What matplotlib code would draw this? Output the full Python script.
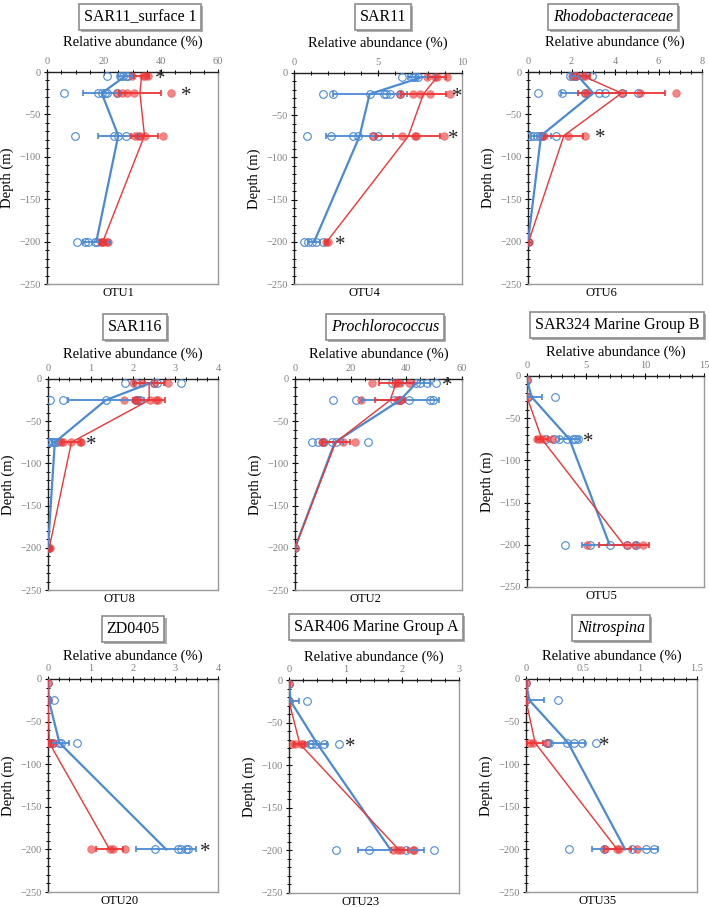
import matplotlib
matplotlib.use('Agg')
import matplotlib.pyplot as plt
from matplotlib.ticker import MultipleLocator, FuncFormatter
import matplotlib.patheffects as pe

plt.rcParams['font.family'] = ['Liberation Serif', 'DejaVu Serif']

W, H = 709, 907
BLUE = '#4a8ad4'
RED = '#ee3535'

depths = [-5, -25, -75, -200]

# ---------------- OTU1 (SAR11_surface 1) ----------------
otu1_blue_reps = [[20.9, 25.5, 26.5, 27.7, 28.5], [6.0, 18.0, 19.2, 20.3, 20.9, 24.4],
                  [9.8, 23.6, 25.0, 27.7], [10.5, 13.5, 14.5, 16.8, 17.5]]
otu1_blue_mean = [27.4, 19.2, 25.0, 17.3]
otu1_blue_sd = [2.6, 6.5, 7.2, 4.8]
otu1_red_reps = [[29.7, 33.8, 34.5, 35.5], [24.4, 26.2, 28.0, 30.4, 43.4],
                 [30.9, 32.0, 32.7, 34.4, 40.8], [18.8, 19.2, 19.5, 20.9, 21.5]]
otu1_red_mean = [33.2, 32.6, 34.2, 19.6]
otu1_red_sd = [2.5, 7.5, 4.8, 1.1]
otu1_stars = [(-5, 39.6), (-25, 49.0)]

# ---------------- OTU4 (SAR11) ----------------
otu4_blue_reps = [[6.4, 7.1, 7.2, 7.4], [1.75, 2.35, 4.5, 5.35, 5.5, 5.7, 6.3],
                  [0.8, 2.2, 3.5, 3.8, 4.7, 5.0], [0.6, 0.85, 1.1, 1.3, 1.7]]
otu4_blue_mean = [7.6, 4.5, 3.9, 1.2]
otu4_blue_sd = [0.8, 2.2, 2.0, 0.35]
otu4_red_reps = [[7.9, 8.4, 8.5, 9.1], [6.3, 7.1, 7.5, 8.1, 9.3],
                 [4.7, 6.4, 7.2, 7.25, 8.9], [1.9, 2.0]]
otu4_red_mean = [8.5, 7.7, 6.8, 1.95]
otu4_red_sd = [0.55, 1.35, 1.9, 0.1]
otu4_stars = [(-25, 9.7), (-75, 9.5), (-200, 2.75)]

# ---------------- OTU6 (Rhodobacteraceae) ----------------
otu6_blue_reps = [[1.95, 2.1, 2.2, 2.95], [0.45, 1.55, 2.6, 3.25, 3.55, 4.3, 5.05],
                  [0.08, 0.25, 0.4, 0.55, 0.64, 1.3], [0.0, 0.01]]
otu6_blue_mean = [2.3, 3.0, 0.6, 0.0]
otu6_blue_sd = [0.35, 1.5, 0.45, 0.01]
otu6_red_reps = [[2.0, 2.2, 2.55, 2.6], [2.6, 2.7, 4.3, 5.15, 6.8],
                 [0.65, 0.75, 1.85, 2.6], [0.03]]
otu6_red_mean = [2.55, 4.3, 1.65, 0.03]
otu6_red_sd = [0.3, 2.0, 0.9, 0.01]
otu6_stars = [(-75, 3.3)]

# ---------------- OTU8 (SAR116) ----------------
otu8_blue_reps = [[1.8, 2.08, 2.49, 2.57, 3.14], [0.04, 0.35, 1.36, 2.08, 2.12, 2.16],
                  [0.0, 0.08, 0.12, 0.16, 0.21], [0.0, 0.01]]
otu8_blue_mean = [2.4, 1.36, 0.16, 0.0]
otu8_blue_sd = [0.35, 0.9, 0.06, 0.01]
otu8_red_reps = [[2.0, 2.22, 2.49, 2.82], [1.78, 2.04, 2.1, 2.39, 2.53, 2.59],
                 [0.31, 0.35, 0.55, 0.76, 0.78], [0.02, 0.04]]
otu8_red_mean = [2.38, 2.38, 0.55, 0.03]
otu8_red_sd = [0.35, 0.38, 0.22, 0.01]
otu8_stars = [(-75, 1.02)]

# ---------------- OTU2 (Prochlorococcus) ----------------
otu2_blue_reps = [[35.0, 43.5, 45.0, 47.4, 50.7], [13.8, 22.0, 35.4, 37.8, 40.8, 48.6, 49.5],
                  [6.0, 8.4, 10.0, 13.4, 14.6, 26.3], [0.0]]
otu2_blue_mean = [43.5, 37.8, 14.3, 0.0]
otu2_blue_sd = [5.0, 13.8, 3.0, 0.1]
otu2_red_reps = [[27.6, 36.0, 36.6, 37.6, 40.8], [23.6, 36.8, 37.5, 38.0],
                 [9.6, 10.4, 17.2, 21.4], [0.0]]
otu2_red_mean = [36.3, 34.2, 14.6, 0.0]
otu2_red_sd = [6.3, 5.4, 5.0, 0.1]
otu2_stars = [(-5, 54.6)]

# ---------------- OTU5 (SAR324 Marine Group B) ----------------
otu5_blue_reps = [[0.0], [0.05, 0.1, 2.34], [1.6, 2.25, 2.75, 3.4, 3.9, 4.1, 4.35],
                  [3.2, 5.3, 7.0, 8.5, 9.2]]
otu5_blue_mean = [0.0, 0.4, 3.6, 7.0]
otu5_blue_sd = [0.0, 0.85, 0.9, 2.35]
otu5_red_reps = [[0.0], [0.0], [0.85, 1.1, 1.35, 2.1], [5.1, 8.45, 9.15, 9.85]]
otu5_red_mean = [0.0, 0.0, 1.27, 8.2]
otu5_red_sd = [0.02, 0.02, 0.5, 2.1]
otu5_stars = [(-75, 5.2)]

# ---------------- OTU20 (ZD0405) ----------------
otu20_blue_reps = [[0.0], [0.0, 0.13], [0.04, 0.12, 0.26, 0.31, 0.69],
                   [2.51, 3.06, 3.14, 3.25, 3.3]]
otu20_blue_mean = [0.0, 0.02, 0.27, 2.78]
otu20_blue_sd = [0.0, 0.05, 0.22, 0.7]
otu20_red_reps = [[0.0], [0.0], [0.0, 0.04, 0.12], [1.02, 1.45, 1.53, 1.8]]
otu20_red_mean = [0.0, 0.0, 0.03, 1.45]
otu20_red_sd = [0.01, 0.01, 0.04, 0.32]
otu20_stars = [(-200, 3.69)]

# ---------------- OTU23 (SAR406 Marine Group A) ----------------
otu23_blue_reps = [[0.0], [0.0, 0.32], [0.37, 0.41, 0.47, 0.61, 0.89],
                   [0.83, 1.42, 2.06, 2.56]]
otu23_blue_mean = [0.0, 0.03, 0.5, 1.8]
otu23_blue_sd = [0.0, 0.15, 0.17, 0.58]
otu23_red_reps = [[0.0], [0.0], [0.06, 0.1, 0.22, 0.25], [1.83, 1.92, 1.97, 2.18, 2.2]]
otu23_red_mean = [0.0, 0.0, 0.19, 1.95]
otu23_red_sd = [0.01, 0.01, 0.1, 0.15]
otu23_stars = [(-75, 1.08)]

# ---------------- OTU35 (Nitrospina) ----------------
otu35_blue_reps = [[0.0], [0.0, 0.28], [0.18, 0.2, 0.36, 0.42, 0.49, 0.61],
                   [0.38, 0.68, 0.93, 1.05, 1.12]]
otu35_blue_mean = [0.0, 0.03, 0.37, 0.87]
otu35_blue_sd = [0.0, 0.13, 0.15, 0.29]
otu35_red_reps = [[0.0], [0.0], [0.035, 0.06, 0.18], [0.69, 0.8, 0.82, 0.97]]
otu35_red_mean = [0.0, 0.0, 0.08, 0.8]
otu35_red_sd = [0.01, 0.01, 0.07, 0.12]
otu35_stars = [(-75, 0.69)]

titles = ['SAR11_surface 1', 'SAR11', 'Rhodobacteraceae',
          'SAR116', 'Prochlorococcus', 'SAR324 Marine Group B',
          'ZD0405', 'SAR406 Marine Group A', 'Nitrospina']
italic = [False, False, True, False, True, False, False, False, True]
otu_labels = ['OTU1', 'OTU4', 'OTU6', 'OTU8', 'OTU2', 'OTU5', 'OTU20', 'OTU23', 'OTU35']
x_max = [60, 10, 8, 4, 60, 15, 4, 3, 1.5]
x_major = [20, 5, 2, 1, 20, 5, 1, 1, 0.5]
x_minor = [5, 1, 0.5, 0.25, 5, 1, 0.25, 0.25, 0.1]

blue_reps = [otu1_blue_reps, otu4_blue_reps, otu6_blue_reps, otu8_blue_reps, otu2_blue_reps,
             otu5_blue_reps, otu20_blue_reps, otu23_blue_reps, otu35_blue_reps]
blue_mean = [otu1_blue_mean, otu4_blue_mean, otu6_blue_mean, otu8_blue_mean, otu2_blue_mean,
             otu5_blue_mean, otu20_blue_mean, otu23_blue_mean, otu35_blue_mean]
blue_sd = [otu1_blue_sd, otu4_blue_sd, otu6_blue_sd, otu8_blue_sd, otu2_blue_sd,
           otu5_blue_sd, otu20_blue_sd, otu23_blue_sd, otu35_blue_sd]
red_reps = [otu1_red_reps, otu4_red_reps, otu6_red_reps, otu8_red_reps, otu2_red_reps,
            otu5_red_reps, otu20_red_reps, otu23_red_reps, otu35_red_reps]
red_mean = [otu1_red_mean, otu4_red_mean, otu6_red_mean, otu8_red_mean, otu2_red_mean,
            otu5_red_mean, otu20_red_mean, otu23_red_mean, otu35_red_mean]
red_sd = [otu1_red_sd, otu4_red_sd, otu6_red_sd, otu8_red_sd, otu2_red_sd,
          otu5_red_sd, otu20_red_sd, otu23_red_sd, otu35_red_sd]
stars = [otu1_stars, otu4_stars, otu6_stars, otu8_stars, otu2_stars,
         otu5_stars, otu20_stars, otu23_stars, otu35_stars]

# layout in pixels: (left, top, right, bottom) of axes; title centre; label offset
ax_boxes = [(47, 72, 218, 284), (294, 73, 462, 284), (528, 72, 702, 284),
            (48, 379, 218, 590), (295, 379, 462, 590), (527, 376, 704, 587),
            (48, 679, 218, 892), (289, 680, 459, 893), (526, 679, 697, 892)]
title_pos = [(140, 17), (383, 17), (613, 17),
             (135, 327), (385, 327), (617, 325),
             (133, 629), (376, 627), (611, 628)]
xlabel_gap = [30, 30, 30, 25, 25, 24, 23, 23, 23]

fmt = FuncFormatter(lambda v, p: '{:g}'.format(v).replace('-', '\u2212'))

fig = plt.figure(figsize=(W / 100, H / 100), dpi=100)

for i in range(9):
    l, t, r, b = ax_boxes[i]
    ax = fig.add_axes([l / W, 1 - b / H, (r - l) / W, (b - t) / H])
    ax.set_xlim(0, x_max[i])
    ax.set_ylim(-250, 0)
    ax.xaxis.tick_top()
    ax.xaxis.set_major_locator(MultipleLocator(x_major[i]))
    ax.xaxis.set_minor_locator(MultipleLocator(x_minor[i]))
    ax.xaxis.set_major_formatter(fmt)
    ax.yaxis.set_major_locator(MultipleLocator(50))
    ax.yaxis.set_minor_locator(MultipleLocator(10))
    ax.yaxis.set_major_formatter(fmt)
    ax.tick_params(which='major', direction='inout', length=5, width=0.8,
                   labelsize=7.5, labelcolor='#808080', pad=2)
    ax.tick_params(which='minor', direction='inout', length=3, width=0.7)
    ax.tick_params(axis='x', which='both', top=True, bottom=False)
    ax.tick_params(axis='y', which='both', left=True, right=False)
    for s in ['left', 'top']:
        ax.spines[s].set_color('#222222')
        ax.spines[s].set_linewidth(1.0)
    for s in ['right', 'bottom']:
        ax.spines[s].set_color('#9a9a9a')
        ax.spines[s].set_linewidth(1.0)

    # replicate points
    for d, vals in zip(depths, blue_reps[i]):
        ax.plot(vals, [d] * len(vals), 'o', mfc='none', mec=BLUE, ms=5.5, mew=0.8, zorder=3)
    for d, vals in zip(depths, red_reps[i]):
        ax.plot(vals, [d] * len(vals), 'o', mfc=RED, mec=RED, ms=5.5, mew=0.5,
                alpha=0.6, zorder=3)

    # mean profiles with SD error bars
    ax.errorbar(blue_mean[i], depths, xerr=blue_sd[i], color=BLUE, lw=1.6,
                elinewidth=1.3, capsize=2, capthick=1.2, zorder=4)
    ax.errorbar(red_mean[i], depths, xerr=red_sd[i], color=RED, lw=1.0,
                elinewidth=1.3, capsize=2, capthick=1.2, zorder=4)

    for d, xv in stars[i]:
        ax.text(xv, d - 4, '*', fontsize=15, ha='center', va='center',
                color='#222222', zorder=5)

    ax.set_xlabel('Relative abundance (%)', fontsize=10.5)
    ax.xaxis.set_label_position('top')
    ax.xaxis.set_label_coords(0.5, 1 + xlabel_gap[i] / (b - t))
    ax.xaxis.label.set_va('center')
    ax.set_ylabel('Depth (m)', fontsize=10.5)
    ax.yaxis.set_label_coords(-40 / (r - l), 0.5)
    ax.yaxis.label.set_va('center')

    fig.text((l + 0.42 * (r - l)) / W, 1 - (b + 9) / H, otu_labels[i],
             fontsize=9, ha='center', va='center')

    tx, ty = title_pos[i]
    txt = fig.text(tx / W, 1 - ty / H, titles[i], fontsize=11.5,
                   style='italic' if italic[i] else 'normal',
                   ha='center', va='center',
                   bbox=dict(boxstyle='square,pad=0.3', fc='white', ec='#8c8c8c', lw=1.2))
    txt.get_bbox_patch().set_path_effects(
        [pe.withSimplePatchShadow(offset=(1.5, -1.5), shadow_rgbFace='#777777', alpha=0.6)])

fig.savefig('out.png', dpi=100)
